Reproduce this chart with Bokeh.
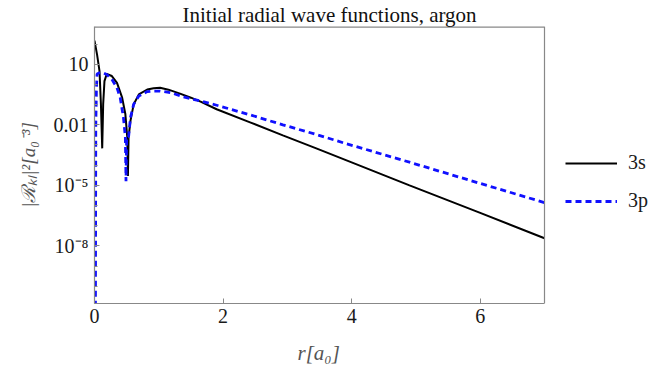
from bokeh.plotting import figure
from bokeh.models import (FixedTicker, CustomJSTickFormatter, Legend, LegendItem, Range1d,
                          Span, Title)
from bokeh.embed import file_html
from bokeh.resources import INLINE

# ---- data ----
r_3s = [0.0, 0.04, 0.078, 0.10, 0.12, 0.135, 0.155, 0.19, 0.27, 0.35, 0.43, 0.48,
        0.51, 0.52, 0.53, 0.56, 0.61, 0.69, 0.82, 0.92, 1.02, 1.15, 1.33, 1.5,
        1.65, 1.90, 2.42, 2.93, 3.45, 3.97, 4.9, 5.98, 7.0]
R2_3s = [148, 30, 4.6, 0.105, 6.8e-4, 0.105, 1.45, 3.3, 2.6, 1.2, 0.22, 0.034,
         2.4e-3, 2.9e-5, 2.4e-3, 0.016, 0.105, 0.32, 0.56, 0.65, 0.68, 0.55, 0.35, 0.22,
         0.14, 0.059, 0.0132, 3.0e-3, 6.8e-4, 1.5e-4, 1.0e-5, 4.6e-7, 2.4e-8]

r_3p = [0.014, 0.02, 0.03, 0.04, 0.07, 0.10, 0.14, 0.19, 0.27, 0.35, 0.40, 0.45,
        0.48, 0.49, 0.50, 0.53, 0.56, 0.61, 0.69, 0.82, 0.92, 1.02, 1.2, 1.385,
        1.65, 1.9, 2.42, 2.93, 3.45, 3.9, 4.9, 5.98, 7.0]
R2_3p = [1e-12, 0.01, 0.6, 3.3, 3.7, 3.8, 3.7, 3.1, 1.8, 0.68, 0.22, 0.023,
         2.5e-3, 1.6e-5, 2.5e-3, 2.5e-3, 0.023, 0.105, 0.27, 0.44, 0.47, 0.47, 0.38, 0.24,
         0.15, 0.093, 0.031, 0.010, 3.3e-3, 1.2e-3, 1.4e-4, 1.3e-5, 1.4e-6]

series_names = ["3s", "3p"]
x_ticks = [0, 2, 4, 6]
y_ticks = [10, 0.01, 1e-5, 1e-8]
y_tick_labels = ["10", "0.01", "10\u207b\u2075", "10\u207b\u2078"]
y_minor = [1e-11, 1e-10, 1e-9, 1e-8, 1e-7, 1e-6, 1e-5, 1e-4, 1e-3, 1e-2, 1e-1, 1, 10, 100]

title_text = "Initial radial wave functions, argon"
x_label = "r[a\u2080]"
y_label = "|\u211b\u2096\u2097|\u00b2[a\u2080\u207b\u00b3]"

X_MIN, X_MAX = 0, 7
Y_MIN, Y_MAX = 1.4e-11, 740
SERIF = "Liberation Serif"
FRAME = "#888888"

# the plotting area is stretched to the right edge so the legend (outside the
# drawn box) is not clipped; the visible box is drawn at X_MAX
x_view_end = X_MAX * 557 / 450

p = figure(width=651, height=377, y_axis_type="log", output_backend="svg",
           toolbar_location=None, x_range=Range1d(X_MIN, x_view_end),
           y_range=Range1d(Y_MIN, Y_MAX),
           min_border_left=94, min_border_right=0, min_border_top=25, min_border_bottom=73)

p.title.text = title_text
p.title.align = "left"
p.title.offset = 88
p.title.text_font = SERIF
p.title.text_font_size = "21px"
p.title.text_font_style = "normal"
p.title.text_color = "#111111"
p.title.standoff = 0

p.xgrid.visible = False
p.ygrid.visible = False
p.outline_line_color = None

for ax in (p.xaxis[0], p.yaxis[0]):
    ax.axis_line_color = FRAME
    ax.axis_line_width = 1.2
    ax.major_tick_line_color = FRAME
    ax.minor_tick_line_color = FRAME
    ax.major_tick_in = 5
    ax.major_tick_out = 0
    ax.minor_tick_in = 3
    ax.minor_tick_out = 0
    ax.major_label_text_font = SERIF
    ax.major_label_text_font_size = "20px"
    ax.major_label_text_color = "#1a1a1a"
    ax.axis_label_text_font = SERIF
    ax.axis_label_text_font_size = "19px"
    ax.axis_label_text_font_style = "italic"
    ax.axis_label_text_color = "#555555"

p.xaxis.ticker = FixedTicker(ticks=x_ticks)
p.xaxis.bounds = (X_MIN, X_MAX)
p.xaxis.major_label_standoff = 5

# x-axis label as a title below, so it is centred under the visible box
p.add_layout(Title(text=x_label, align="left", offset=203, standoff=26,
                   text_font=SERIF, text_font_size="21px", text_font_style="italic",
                   text_color="#555555"), "below")

p.yaxis.ticker = FixedTicker(ticks=y_ticks, minor_ticks=y_minor)
p.yaxis.formatter = CustomJSTickFormatter(args=dict(vals=y_ticks, labs=y_tick_labels), code="""
    let best = 0, bd = 1e9;
    for (let i = 0; i < vals.length; i++) {
        const d = Math.abs(Math.log10(vals[i]) - Math.log10(tick));
        if (d < bd) { bd = d; best = i; }
    }
    return labs[best];
""")
p.yaxis.major_label_standoff = 6
p.yaxis.axis_label = y_label
p.yaxis.axis_label_standoff = 12

# visible box: right edge and top edge
p.add_layout(Span(location=X_MAX, dimension="height", line_color=FRAME, line_width=1.2))
p.segment(x0=[X_MIN], x1=[X_MAX], y0=[Y_MAX], y1=[Y_MAX], line_color=FRAME, line_width=2.4)

l3s = p.line(r_3s, R2_3s, line_color="black", line_width=2)
l3p = p.line(r_3p, R2_3p, line_color="#1010ff", line_width=2.8, line_dash="6 4")

legend = Legend(items=[LegendItem(label=series_names[0], renderers=[l3s]),
                       LegendItem(label=series_names[1], renderers=[l3p])],
                location=(471, 91), orientation="vertical",
                padding=0, margin=0, spacing=15, glyph_width=52, glyph_height=20,
                label_height=20, label_standoff=11,
                label_text_font=SERIF, label_text_font_size="20px",
                label_text_color="#1a1a1a",
                border_line_alpha=0, background_fill_alpha=0)
p.add_layout(legend, "center")

open("out.html", "w").write(file_html(p, INLINE))
